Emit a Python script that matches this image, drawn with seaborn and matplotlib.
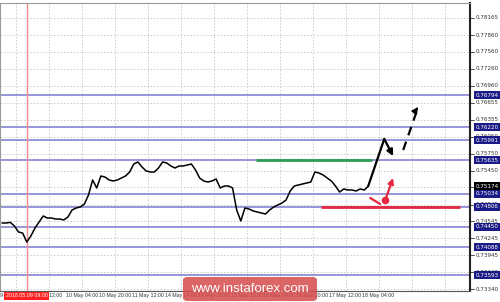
import numpy as np
import pandas as pd
import matplotlib
matplotlib.use("Agg")
import matplotlib.pyplot as plt
import matplotlib.transforms as mtransforms
from matplotlib.patches import FancyBboxPatch
import seaborn as sns

# ---- data (trading hours since 9 May 12:00, two-hour closes) ----
hours = list(range(-15, 165, 2))
closes = [
    0.74518, 0.74518, 0.74530, 0.74465, 0.74358, 0.74340, 0.74180, 0.74287,
    0.74429, 0.74536, 0.74643, 0.74607, 0.74607, 0.74589, 0.74589, 0.74572,
    0.74625, 0.74749, 0.74785, 0.74803, 0.74856, 0.75016, 0.75283, 0.75141,
    0.75354, 0.75336, 0.75283, 0.75265, 0.75283, 0.75318, 0.75354, 0.75425,
    0.75567, 0.75603, 0.75514, 0.75443, 0.75425, 0.75425, 0.75496, 0.75603,
    0.75585, 0.75532, 0.75496, 0.75532, 0.75532, 0.75549, 0.75567, 0.75461,
    0.75318, 0.75265, 0.75247, 0.75265, 0.75301, 0.75141, 0.75176, 0.75176,
    0.75141, 0.74749, 0.74554, 0.74785, 0.74767, 0.74732, 0.74714, 0.74696,
    0.74678, 0.74749, 0.74803, 0.74838, 0.74874, 0.74927, 0.75087, 0.75176,
    0.75194, 0.75212, 0.75229, 0.75247, 0.75425, 0.75407, 0.75372, 0.75318,
    0.75265, 0.75176, 0.75069, 0.75123, 0.75105, 0.75105, 0.75087, 0.75123,
    0.75105, 0.75174,
]
current_price = 0.75174

level_values = [0.76794, 0.76220, 0.75991, 0.75635, 0.75034, 0.74806, 0.74450, 0.74088, 0.73593]
level_labels = ["0.76794", "0.76220", "0.75991", "0.75635", "0.75034", "0.74806", "0.74450", "0.74088", "0.73593"]

ytick_values = [0.78165, 0.77860, 0.77560, 0.77260, 0.76960, 0.76655, 0.76355, 0.76050,
                0.75750, 0.75450, 0.75150, 0.74845, 0.74545, 0.74245, 0.73945, 0.73640, 0.73340]
ytick_labels = ["0.78165", "0.77860", "0.77560", "0.77260", "0.76960", "0.76655", "0.76355", "0.76050",
                "0.75750", "0.75450", "0.75150", "0.74845", "0.74545", "0.74245", "0.73945", "0.73640", "0.73340"]

xtick_hours = [-16, 0, 16, 32, 48, 64, 80, 96, 112, 128, 144, 160]
xtick_labels = ["9 May 2018", "9 May 12:00", "10 May 04:00", "10 May 20:00", "11 May 12:00",
                "14 May 04:00", "14 May 20:00", "15 May 12:00", "16 May 04:00", "16 May 20:00",
                "17 May 12:00", "18 May 04:00"]
xgrid_hours = [-8, 8, 24, 40, 56, 72, 88, 104, 120, 136, 152, 168, 184, 200]

marker_hour = -3
marker_label = "2018.05.09 09:00"

# scenario drawings
green_x = [108.6, 164.8]
green_y = [0.75635, 0.75635]
red_x = [140.1, 207.5]
red_y = [0.74806, 0.74806]
up_path_x = [162.9, 170.7, 175.0]
up_path_y = [0.75174, 0.76012, 0.75709]
dash_x = [179.9, 187.2]
dash_y = [0.75816, 0.76581]
red_tick_x = [163.9, 168.7]
red_tick_y = [0.74963, 0.74856]
red_arrow_x = [171.2, 175.0]
red_arrow_y = [0.74927, 0.75318]

# ---- figure ----
sns.set_style("white")
plt.rcParams['font.family'] = ['DejaVu Sans']
small_font = ["Liberation Sans", "DejaVu Sans"]

W, H = 500, 302
fig = plt.figure(figsize=(W / 100, H / 100), dpi=100)
ax = fig.add_axes([0, 11 / H, 470 / W, 288 / H])
ax.set_xlim(-15.52, 212.36)
ax.set_ylim(0.73309, 0.78430)

grid_kw = dict(color="#c8c8c8", lw=0.6, dashes=(2, 2), zorder=0)
for yv in ytick_values:
    ax.axhline(yv, **grid_kw)
for xv in xgrid_hours:
    ax.axvline(xv, **grid_kw)

for lv in level_values:
    ax.axhline(lv, color="#7a7ad0", lw=1.1, zorder=1)

ax.axvline(marker_hour, color="#f28c8c", lw=1.0, zorder=1)

df = pd.DataFrame({"hour": hours, "close": closes})
sns.lineplot(data=df, x="hour", y="close", ax=ax, color="black", lw=1.1, zorder=3)

ax.plot(green_x, green_y, color="#2e9e55", lw=2.0, zorder=4, solid_capstyle="butt")
ax.plot(red_x, red_y, color="#e5283f", lw=2.0, zorder=4, solid_capstyle="butt")

# black solid scenario
ax.plot(up_path_x[:2], up_path_y[:2], color="black", lw=1.6, zorder=5)
ax.annotate("", xy=(up_path_x[2], up_path_y[2]), xytext=(up_path_x[1], up_path_y[1]),
            arrowprops=dict(arrowstyle="-|>", color="black", lw=1.6, mutation_scale=9,
                            shrinkA=0, shrinkB=0), zorder=5)
# dashed black scenario
ax.plot(dash_x, dash_y, color="black", lw=1.6, ls=(0, (4, 3)), zorder=5)
ax.annotate("", xy=(dash_x[1], dash_y[1]),
            xytext=(dash_x[1] - 0.8, dash_y[1] - 0.0004),
            arrowprops=dict(arrowstyle="-|>", color="black", lw=1.2, mutation_scale=9,
                            shrinkA=0, shrinkB=0), zorder=5)
# red scenario
ax.plot(red_tick_x, red_tick_y, color="#e5283f", lw=1.6, zorder=5)
ax.plot([red_arrow_x[0]], [red_arrow_y[0]], "o", color="#e5283f", ms=4.5, zorder=5)
ax.annotate("", xy=(red_arrow_x[1], red_arrow_y[1]), xytext=(red_arrow_x[0], red_arrow_y[0]),
            arrowprops=dict(arrowstyle="-|>", color="#e5283f", lw=1.6, mutation_scale=8,
                            shrinkA=0, shrinkB=0), zorder=5)

# axes styling
ax.set_xlabel("")
ax.set_ylabel("")
ax.set_yticks([])
ax.set_xticks(xtick_hours)
ax.set_xticklabels(xtick_labels, fontsize=3.8, color="#333333", ha="left", family=small_font)
ax.tick_params(axis="x", length=0, pad=1.8)
for s in ["top", "left"]:
    ax.spines[s].set_color("#9a9a9a")
    ax.spines[s].set_linewidth(0.8)
ax.spines["bottom"].set_color("#555555")
ax.spines["bottom"].set_linewidth(0.8)
ax.spines["right"].set_color("#222222")
ax.spines["right"].set_linewidth(1.5)

trans_r = mtransforms.blended_transform_factory(ax.transAxes, ax.transData)
for yv, lab in zip(ytick_values, ytick_labels):
    ax.text(1.012, yv, lab, transform=trans_r, fontsize=4.1, color="#333333",
            va="center", ha="left", clip_on=False)
    ax.plot([1.0, 1.008], [yv, yv], transform=trans_r, color="#333333", lw=0.6, clip_on=False)
for lv, lab in zip(level_values, level_labels):
    ax.text(1.012, lv, lab, transform=trans_r, fontsize=4.1, color="white",
            va="center", ha="left", clip_on=False, zorder=10,
            bbox=dict(boxstyle="square,pad=0.25", fc="#1b1b88", ec="none"))
ax.text(1.012, current_price, f"{current_price:.5f}", transform=trans_r, fontsize=4.1,
        color="white", va="center", ha="left", clip_on=False, zorder=11,
        bbox=dict(boxstyle="square,pad=0.25", fc="black", ec="none"))

trans_b = mtransforms.blended_transform_factory(ax.transData, ax.transAxes)
ax.text(marker_hour, -0.017, marker_label, transform=trans_b, fontsize=3.8, color="white",
        ha="center", va="center", clip_on=False, zorder=12, family=small_font,
        bbox=dict(boxstyle="square,pad=0.3", fc="#ff2020", ec="none"))

# watermark
wm = FancyBboxPatch((183 / W, 1 / H), 134 / W, 24 / H, boxstyle="round,pad=0,rounding_size=0.01",
                    transform=fig.transFigure, fc="#d64a4a", ec="none", alpha=0.85, zorder=20)
fig.patches.append(wm)
fig.text(250 / W, 13 / H, "www.instaforex.com", fontsize=9.5, color="white",
         family=["Liberation Sans", "DejaVu Sans"], ha="center", va="center", zorder=21)

fig.savefig("out.png", dpi=100)
